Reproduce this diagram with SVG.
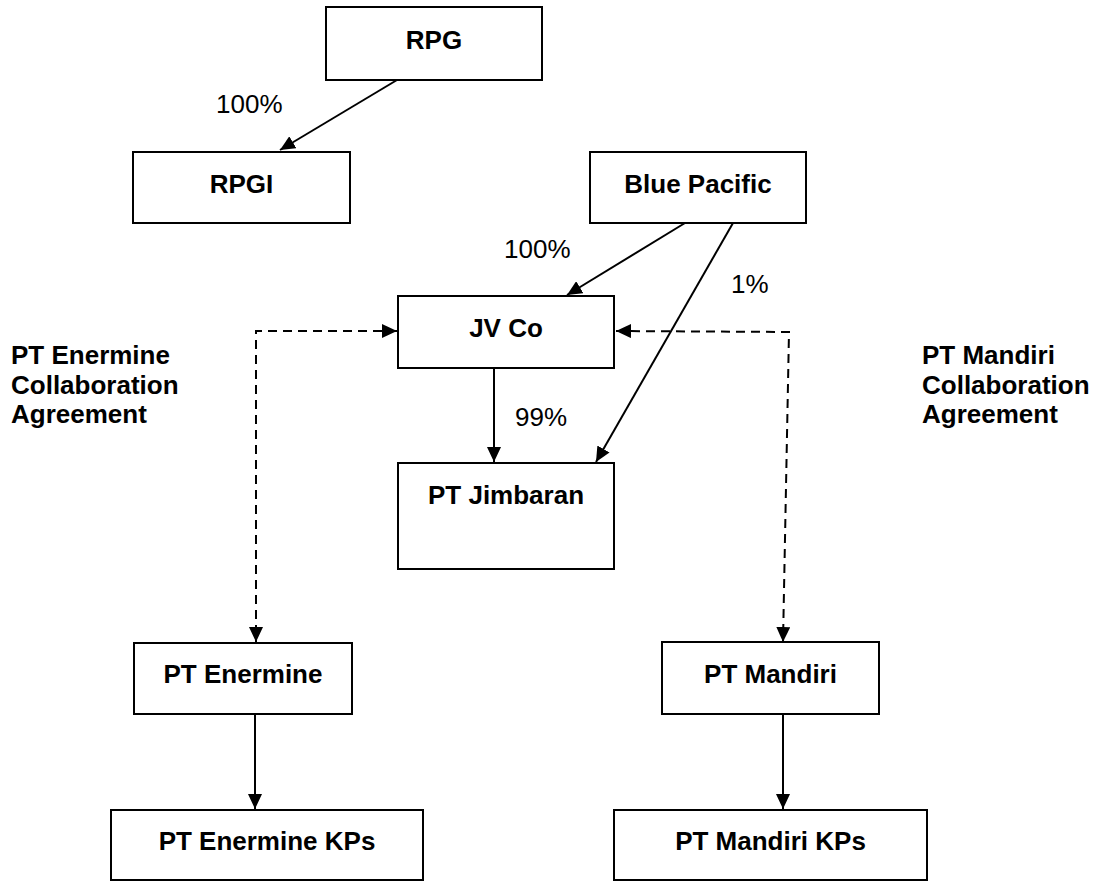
<svg xmlns="http://www.w3.org/2000/svg" width="1101" height="882" viewBox="0 0 1101 882">
<style>
.box{fill:#fff;stroke:#000;stroke-width:2}
.t{font-family:"Liberation Sans",Arial,sans-serif;font-size:26px;font-weight:bold;fill:#000;text-anchor:middle}
.lbl{font-family:"Liberation Sans",Arial,sans-serif;font-size:26px;fill:#000}
.side{font-family:"Liberation Sans",Arial,sans-serif;font-size:26px;font-weight:bold;fill:#000}
.c{fill:none;stroke:#000;stroke-width:2}
.d{fill:none;stroke:#000;stroke-width:2;stroke-dasharray:9 6}
</style>
<defs>
<marker id="ah" markerUnits="userSpaceOnUse" markerWidth="15" markerHeight="14" refX="15" refY="7" orient="auto-start-reverse">
<path d="M0,0 L15,7 L0,14 z" fill="#000"/>
</marker>
</defs>
<rect width="1101" height="882" fill="#fff"/>
<g id="connectors">
<line class="c" x1="397" y1="80" x2="280" y2="150" marker-end="url(#ah)"/>
<line class="c" x1="685" y1="223" x2="567" y2="295" marker-end="url(#ah)"/>
<line class="c" x1="733" y1="223" x2="596" y2="462" marker-end="url(#ah)"/>
<line class="c" x1="494" y1="368" x2="494" y2="462" marker-end="url(#ah)"/>
<line class="c" x1="255" y1="714" x2="255" y2="809" marker-end="url(#ah)"/>
<line class="c" x1="783" y1="714" x2="783" y2="809" marker-end="url(#ah)"/>
<polyline class="d" points="397,331 256,331 256,642" marker-start="url(#ah)" marker-end="url(#ah)"/>
<polyline class="d" points="616,331 789,332 783,642" marker-start="url(#ah)" marker-end="url(#ah)"/>
<text class="lbl" x="216" y="113">100%</text>
<text class="lbl" x="504" y="258">100%</text>
<text class="lbl" x="731" y="293">1%</text>
<text class="lbl" x="515" y="426">99%</text>
</g>
<g id="rpg"><rect class="box" x="326" y="7" width="216" height="73"/><text class="t" x="434" y="49">RPG</text></g>
<g id="rpgi"><rect class="box" x="133" y="152" width="217" height="71"/><text class="t" x="241.5" y="193">RPGI</text></g>
<g id="blue-pacific"><rect class="box" x="590" y="152" width="216" height="71"/><text class="t" x="698" y="193">Blue Pacific</text></g>
<g id="jv-co"><rect class="box" x="398" y="296" width="216" height="72"/><text class="t" x="506" y="337">JV Co</text></g>
<g id="pt-jimbaran"><rect class="box" x="398" y="463" width="216" height="106"/><text class="t" x="506" y="504">PT Jimbaran</text></g>
<g id="pt-enermine"><rect class="box" x="134" y="643" width="218" height="71"/><text class="t" x="243" y="683">PT Enermine</text></g>
<g id="pt-mandiri"><rect class="box" x="662" y="642" width="217" height="72"/><text class="t" x="770.5" y="683">PT Mandiri</text></g>
<g id="pt-enermine-kps"><rect class="box" x="111" y="810" width="312" height="70"/><text class="t" x="267" y="850">PT Enermine KPs</text></g>
<g id="pt-mandiri-kps"><rect class="box" x="614" y="810" width="313" height="70"/><text class="t" x="770.5" y="850">PT Mandiri KPs</text></g>
<g id="enermine-agreement"><text class="side" x="11" y="364">PT Enermine</text><text class="side" x="11" y="394">Collaboration</text><text class="side" x="11" y="423">Agreement</text></g>
<g id="mandiri-agreement"><text class="side" x="922" y="364">PT Mandiri</text><text class="side" x="922" y="394">Collaboration</text><text class="side" x="922" y="423">Agreement</text></g>
</svg>
